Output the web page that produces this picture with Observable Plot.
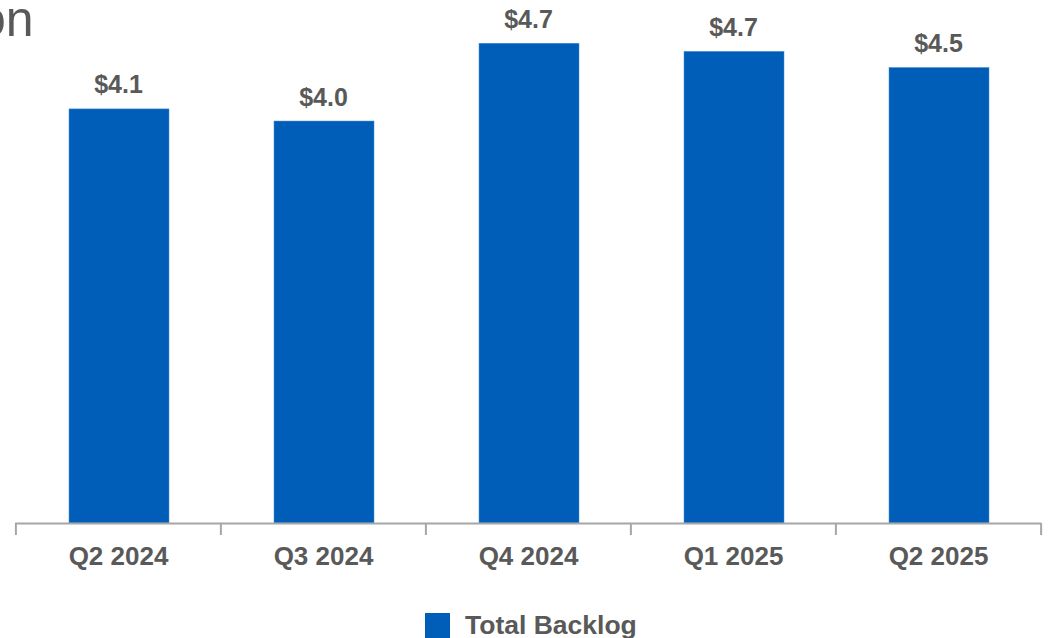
<!DOCTYPE html>
<html>
<head>
<meta charset="utf-8">
<script src="https://cdn.jsdelivr.net/npm/d3@7"></script>
<script src="https://cdn.jsdelivr.net/npm/@observablehq/plot@0.6"></script>
<style>
  html, body { margin: 0; padding: 0; background: #fff; width: 1048px; height: 638px; overflow: hidden; }
  body { position: relative; font-family: "Liberation Sans", Arial, sans-serif; color: #595959; }
  #unit { position: absolute; left: -22px; top: -10px; font-size: 50px; color: #595959; white-space: nowrap; }
  #chart { position: absolute; left: 0; top: 0; }
  #legend { position: absolute; left: 425px; top: 610px; display: flex; align-items: center; font-size: 26.5px; font-weight: bold; color: #595959; }
  #legend .sw { width: 25px; height: 25px; background: #005EB8; margin-right: 15px; }
</style>
</head>
<body>
<div id="chart"></div>
<div id="unit">on</div>
<div id="legend"><div class="sw"></div><span>Total Backlog</span></div>
<script>
const quarters = ["Q2 2024", "Q3 2024", "Q4 2024", "Q1 2025", "Q2 2025"];
const backlog = [4.10, 3.98, 4.75, 4.67, 4.51];
const valueLabels = ["$4.1", "$4.0", "$4.7", "$4.7", "$4.5"];
const seriesName = "Total Backlog";

const data = quarters.map((q, i) => ({quarter: q, value: backlog[i], label: valueLabels[i]}));

const W = 1048, H = 598, mL = 15, mR = 7, mT = 18, mB = 75;
const step = (W - mL - mR) / quarters.length;
const gray = "#a6a6a6";
const textGray = "#595959";
const blue = "#005EB8";

const chart = Plot.plot({
  width: W,
  height: H,
  marginLeft: mL,
  marginRight: mR,
  marginTop: mT,
  marginBottom: mB,
  style: {fontFamily: "'Liberation Sans', Arial, sans-serif", background: "white"},
  x: {domain: quarters, paddingInner: 0.513, paddingOuter: 0.2565, label: null},
  y: {domain: [0, 5], axis: null},
  marks: [
    Plot.barY(data, {x: "quarter", y: "value", fill: blue, stroke: "#4a90d9", strokeWidth: 0.5, dx: 1}),
    Plot.ruleY([0], {stroke: gray, strokeWidth: 2}),
    Plot.axisX({tickSize: 12, tickFormat: () => "", dx: -step / 2, stroke: gray, strokeWidth: 2}),
    Plot.axisX({ticks: [quarters[quarters.length - 1]], tickSize: 12, tickFormat: () => "", dx: step / 2, stroke: gray, strokeWidth: 2}),
    Plot.axisX({tickSize: 0, tickPadding: 23, fontSize: 26, fontWeight: "bold", fill: textGray, label: null}),
    Plot.text(data, {x: "quarter", y: "value", text: "label", dy: -16, lineAnchor: "bottom", fontSize: 25, fontWeight: "bold", fill: textGray})
  ]
});
document.getElementById("chart").appendChild(chart);
</script>
</body>
</html>
